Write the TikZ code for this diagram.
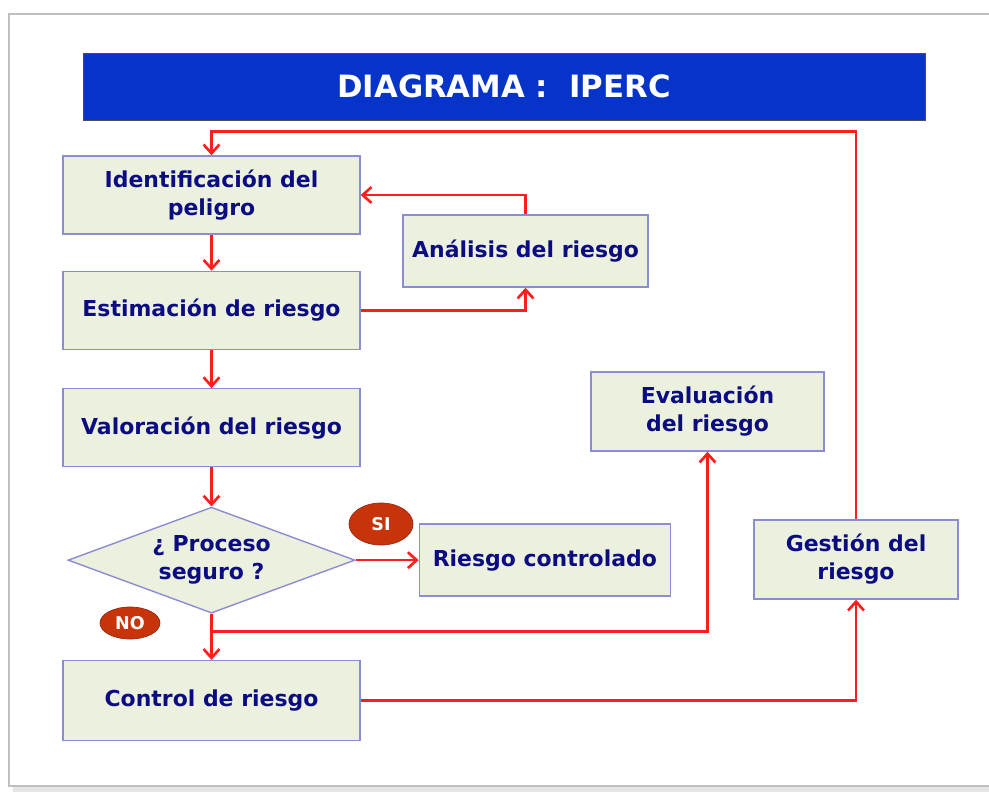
\documentclass[tikz,border=0pt]{standalone}
\usepackage{fontspec}
\setmainfont{DejaVu Sans}
\usetikzlibrary{shapes.geometric, arrows.meta, positioning, calc}
\definecolor{azultitulo}{RGB}{6,51,200}
\definecolor{azultexto}{RGB}{12,12,130}
\definecolor{verdecaja}{RGB}{235,241,222}
\definecolor{bordecaja}{RGB}{140,140,210}
\definecolor{rojoflecha}{RGB}{255,30,30}
\definecolor{rojoetiqueta}{RGB}{200,52,10}
\definecolor{bordeetiqueta}{RGB}{150,40,20}

\begin{document}
\begin{tikzpicture}[
			x=0.02cm, y=-0.02cm,
			>={Straight Barb[length=5pt,width=9pt]},
			caja/.style={draw=bordecaja, fill=verdecaja, line width=0.8pt, rectangle, align=center, text=azultexto, font=\fontsize{12.5}{16}\selectfont\bfseries, minimum height=1.56cm},
			rombo/.style={diamond, aspect=2.7, draw=bordecaja, fill=verdecaja, line width=0.8pt, align=center, text=azultexto, font=\fontsize{12.5}{16}\selectfont\bfseries, inner sep=0pt, minimum width=5.74cm, minimum height=2.12cm},
			etiqueta/.style={ellipse, draw=bordeetiqueta, fill=rojoetiqueta, text=white, font=\fontsize{10}{12}\selectfont\bfseries, inner sep=0pt},
			flecha/.style={->, draw=rojoflecha, line width=1.5pt}
			]
			\useasboundingbox (0,0) rectangle (989,791);
			% --- Marco y título ---
			\draw[gray!20, line width=3pt] (13,789) -- (1010,789);
			\draw[gray!50, line width=1.3pt] (9,14) rectangle (1010,786);
			\node[draw=black!70, fill=azultitulo, minimum width=16.84cm, minimum height=1.34cm, text=white, font=\fontsize{17.5}{20}\selectfont\bfseries] (titulo) at (504,86.5) {DIAGRAMA :\ \ IPERC};
			
			% --- Columna principal ---
			\node[caja, minimum width=5.94cm] (identificacion) at (211.5,195) {Identificación del\\peligro};
			\node[caja, minimum width=5.94cm, below=0.72cm of identificacion] (estimacion) {Estimación de riesgo};
			\node[caja, minimum width=5.94cm, below=0.76cm of estimacion] (valoracion) {Valoración del riesgo};
			\node[rombo, below=0.78cm of valoracion] (decision) {¿ Proceso\\seguro ?};
			\node[caja, minimum width=5.94cm, minimum height=1.6cm, below=0.92cm of decision] (control) {Control de riesgo};
			
			% --- Bloques de la derecha ---
			\node[caja, minimum width=4.9cm, minimum height=1.44cm] (analisis) at (525.5,251) {Análisis del riesgo};
			\node[caja, minimum width=4.66cm, minimum height=1.58cm] (evaluacion) at (707.5,411.5) {Evaluación\\del riesgo};
			\node[caja, minimum width=5.02cm, minimum height=1.44cm, right=1.26cm of decision] (controlado) {Riesgo controlado};
			\node[caja, minimum width=4.08cm, minimum height=1.58cm] (gestion) at (856,559.5) {Gestión del\\riesgo};
			
			% --- Etiquetas SI / NO ---
			\node[etiqueta, minimum width=1.28cm, minimum height=0.84cm] (si) at (381,524) {SI};
			\node[etiqueta, minimum width=1.2cm, minimum height=0.64cm] (no) at (130,623) {NO};
			
			% --- Flechas ---
			\draw[flecha] (identificacion) -- (estimacion);
			\draw[flecha] (estimacion) -- (valoracion);
			\draw[flecha] (valoracion) -- (decision);
			\draw[flecha] (decision) -- (control);
			\draw[flecha] (decision) -- (controlado);
			\draw[flecha] (estimacion.east) -| (analisis.south);
			\draw[flecha] (analisis.north) |- (identificacion.east);
			\coordinate (rama) at ($(decision.south)!0.38!(control.north)$);
			\draw[flecha] (rama) -| (evaluacion.south);
			\draw[flecha] (control.east) -| (gestion.south);
			\draw[flecha] (gestion.north) |- ([yshift=0.48cm]identificacion.north) -- (identificacion.north);
			
		\end{tikzpicture}
\end{document}
